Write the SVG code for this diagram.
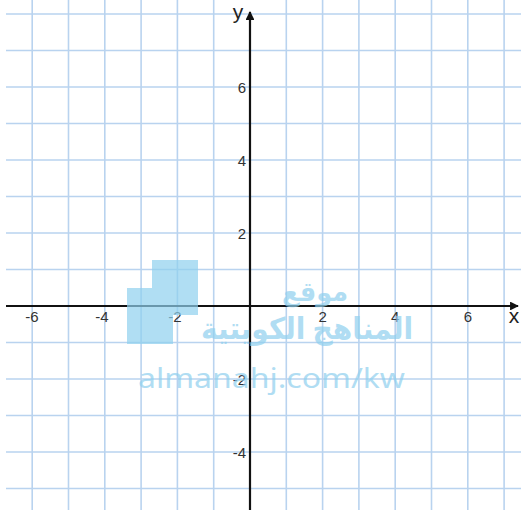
<svg xmlns="http://www.w3.org/2000/svg" width="521" height="510" viewBox="0 0 521 510">
<defs>
<style>
.grid line{stroke:#b9d3ef;stroke-width:1.6}
.axis{stroke:#111;stroke-width:2.2;fill:none}
.lbl{font-family:"Liberation Sans",Arial,sans-serif;font-size:15px;fill:#333}
.ax{font-family:"Liberation Sans",Arial,sans-serif;font-size:21px;fill:#222}
.wm{fill:#8fd0ee;opacity:0.7}
.wmt{font-family:"Noto Sans","DejaVu Sans",sans-serif;fill:#8fd0ee;opacity:0.7}
</style>
<marker id="arr" viewBox="0 0 10 10" refX="9" refY="5" markerWidth="4" markerHeight="4" orient="auto" markerUnits="strokeWidth">
<path d="M0,0 L10,5 L0,10 z" fill="#111"/>
</marker>
</defs>
<rect width="521" height="510" fill="#fff"/>
<g id="grid" class="grid">
<line x1="32.2" y1="0" x2="32.2" y2="510"/>
<line x1="68.5" y1="0" x2="68.5" y2="510"/>
<line x1="104.8" y1="0" x2="104.8" y2="510"/>
<line x1="141.1" y1="0" x2="141.1" y2="510"/>
<line x1="177.4" y1="0" x2="177.4" y2="510"/>
<line x1="213.7" y1="0" x2="213.7" y2="510"/>
<line x1="286.3" y1="0" x2="286.3" y2="510"/>
<line x1="322.6" y1="0" x2="322.6" y2="510"/>
<line x1="358.9" y1="0" x2="358.9" y2="510"/>
<line x1="395.2" y1="0" x2="395.2" y2="510"/>
<line x1="431.5" y1="0" x2="431.5" y2="510"/>
<line x1="467.8" y1="0" x2="467.8" y2="510"/>
<line x1="504.1" y1="0" x2="504.1" y2="510"/>
<line x1="6" y1="14" x2="521" y2="14"/>
<line x1="6" y1="50.5" x2="521" y2="50.5"/>
<line x1="6" y1="87" x2="521" y2="87"/>
<line x1="6" y1="123.5" x2="521" y2="123.5"/>
<line x1="6" y1="160" x2="521" y2="160"/>
<line x1="6" y1="196.5" x2="521" y2="196.5"/>
<line x1="6" y1="233" x2="521" y2="233"/>
<line x1="6" y1="269.5" x2="521" y2="269.5"/>
<line x1="6" y1="342.5" x2="521" y2="342.5"/>
<line x1="6" y1="379" x2="521" y2="379"/>
<line x1="6" y1="415.5" x2="521" y2="415.5"/>
<line x1="6" y1="452" x2="521" y2="452"/>
<line x1="6" y1="488.5" x2="521" y2="488.5"/>
</g>
<g id="axes">
<line id="x-axis" class="axis" x1="6" y1="306" x2="518" y2="306" marker-end="url(#arr)"/>
<line id="y-axis" class="axis" x1="250" y1="510" x2="250" y2="12" marker-end="url(#arr)"/>
<text class="ax" x="238" y="19" text-anchor="middle">y</text>
<text class="ax" x="514" y="323" text-anchor="middle">x</text>
</g>
<g id="x-labels" class="lbl" text-anchor="middle">
<text x="32" y="322">-6</text>
<text x="102" y="322">-4</text>
<text x="175" y="322">-2</text>
<text x="322.6" y="322">2</text>
<text x="395.2" y="322">4</text>
<text x="467.8" y="322">6</text>
</g>
<g id="y-labels" class="lbl" text-anchor="end">
<text x="246" y="92.5">6</text>
<text x="246" y="165.5">4</text>
<text x="246" y="238.5">2</text>
<text x="246" y="384.5">-2</text>
<text x="246" y="457.5">-4</text>
</g>
<g id="watermark">
<path class="wm" d="M152,260 H198 V315 H173 V344 H127 V288 H152 Z"/>
<text class="wmt" x="315" y="301" text-anchor="middle" font-size="26" font-weight="bold" textLength="66" lengthAdjust="spacingAndGlyphs">موقع</text>
<text class="wmt" x="307" y="339" text-anchor="middle" font-size="30" font-weight="bold" textLength="212" lengthAdjust="spacingAndGlyphs">المناهج الكويتية</text>
<text class="wmt" x="138" y="388" font-size="28" textLength="267" lengthAdjust="spacingAndGlyphs">almanahj.com/kw</text>
</g>
</svg>
